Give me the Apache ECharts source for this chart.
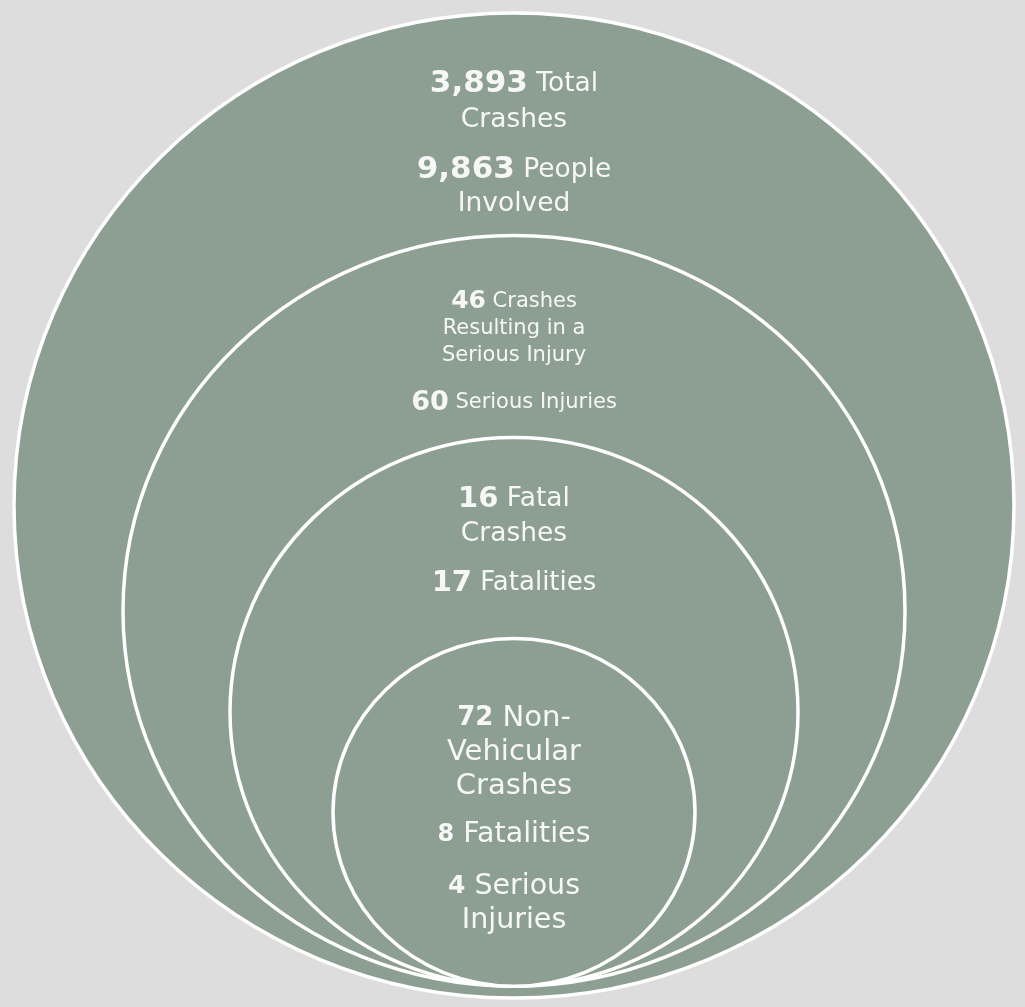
<!DOCTYPE html>
<html>
<head>
<meta charset="utf-8">
<title>Crash Summary</title>
<script src="https://cdn.jsdelivr.net/npm/echarts@6/dist/echarts.min.js"></script>
<style>
  html, body { margin: 0; padding: 0; background: #dddddd; }
  #chart { width: 1025px; height: 1007px; }
</style>
</head>
<body>
<div id="chart"></div>
<script>
// ---- Figures shown in each nested circle (outer to inner) ----
const ringNames = ['All crashes', 'Serious injury crashes', 'Fatal crashes', 'Non-vehicular crashes'];
const primaryCounts = [3893, 46, 16, 72];
const primaryLabels = ['Total\nCrashes', 'Crashes\nResulting in a\nSerious Injury', 'Fatal\nCrashes', 'Non-\nVehicular\nCrashes'];
const secondaryCounts = [9863, 60, 17, 8];
const secondaryLabels = ['People\nInvolved', 'Serious Injuries', 'Fatalities', 'Fatalities'];
const tertiaryCounts = [null, null, null, 4];
const tertiaryLabels = [null, null, null, 'Serious\nInjuries'];

// ---- Layout: ring shapes in axis units (rx, ry, bottom) and text placement ----
const RING_SHAPES = [
  [1.000, 1.000, 0.000],
  [0.782, 0.762, 0.024],
  [0.568, 0.557, 0.024],
  [0.362, 0.353, 0.024]
];
// per ring, per text block: [offset from ring top (px), number size, text size, line height]
const BLOCK_STYLE = [
  [[89, 31, 26.5, 36], [174, 31, 26.5, 34]],
  [[93, 25, 21, 27], [167, 27, 21, 28]],
  [[79, 29, 26.5, 35], [146, 29, 26, 34]],
  [[114, 26, 29, 34], [196, 24, 28.5, 34], [265, 25, 28.5, 34]]
];

const FONT = '"DejaVu Sans", sans-serif';
const FILL = '#8d9e93';
const TEXT_COLOR = '#f6f7f6';

function fmt(n) { return n.toLocaleString('en-US'); }

function richBlock(count, label, numSize, txtSize, lh) {
  const lines = label.split('\n');
  let s = '{n|' + fmt(count) + '}{t| ' + lines[0] + '}';
  for (let k = 1; k < lines.length; k++) s += '\n{t|' + lines[k] + '}';
  return {
    text: s,
    rich: {
      n: { fontFamily: FONT, fontWeight: 'bold', fontSize: numSize, lineHeight: lh, fill: TEXT_COLOR },
      t: { fontFamily: FONT, fontSize: txtSize, lineHeight: lh, fill: TEXT_COLOR }
    }
  };
}

const chart = echarts.init(document.getElementById('chart'));

chart.setOption({
  backgroundColor: '#dddddd',
  animation: false,
  grid: { left: 14, top: 13, width: 1000, height: 985 },
  xAxis: { type: 'value', min: -1, max: 1, show: false },
  yAxis: { type: 'value', min: 0, max: 2, show: false },
  series: [{
    type: 'custom',
    name: 'Crash rings',
    coordinateSystem: 'cartesian2d',
    data: ringNames.map((name, i) => ({ name: name, value: [0, i] })),
    renderItem: function (params, api) {
      const i = params.dataIndex;
      const shape = RING_SHAPES[i];
      const center = api.coord([0, shape[2] + shape[1]]);
      const size = api.size([shape[0], shape[1]]);
      const rx = size[0], ry = size[1];
      const top = center[1] - ry;

      const blocks = [[primaryCounts[i], primaryLabels[i]], [secondaryCounts[i], secondaryLabels[i]]];
      if (tertiaryCounts[i] != null) blocks.push([tertiaryCounts[i], tertiaryLabels[i]]);

      const children = [{
        type: 'ellipse',
        shape: { cx: center[0], cy: center[1], rx: rx, ry: ry },
        style: { fill: FILL, stroke: '#ffffff', lineWidth: 3.5 },
        z2: i * 10
      }];
      blocks.forEach(function (b, k) {
        const st = BLOCK_STYLE[i][k];
        const rb = richBlock(b[0], b[1], st[1], st[2], st[3]);
        children.push({
          type: 'text',
          z2: i * 10 + 5,
          style: {
            text: rb.text,
            rich: rb.rich,
            x: center[0],
            y: top + st[0],
            align: 'center',
            verticalAlign: 'middle',
            fill: TEXT_COLOR
          }
        });
      });
      return { type: 'group', children: children };
    }
  }]
});
</script>
</body>
</html>
